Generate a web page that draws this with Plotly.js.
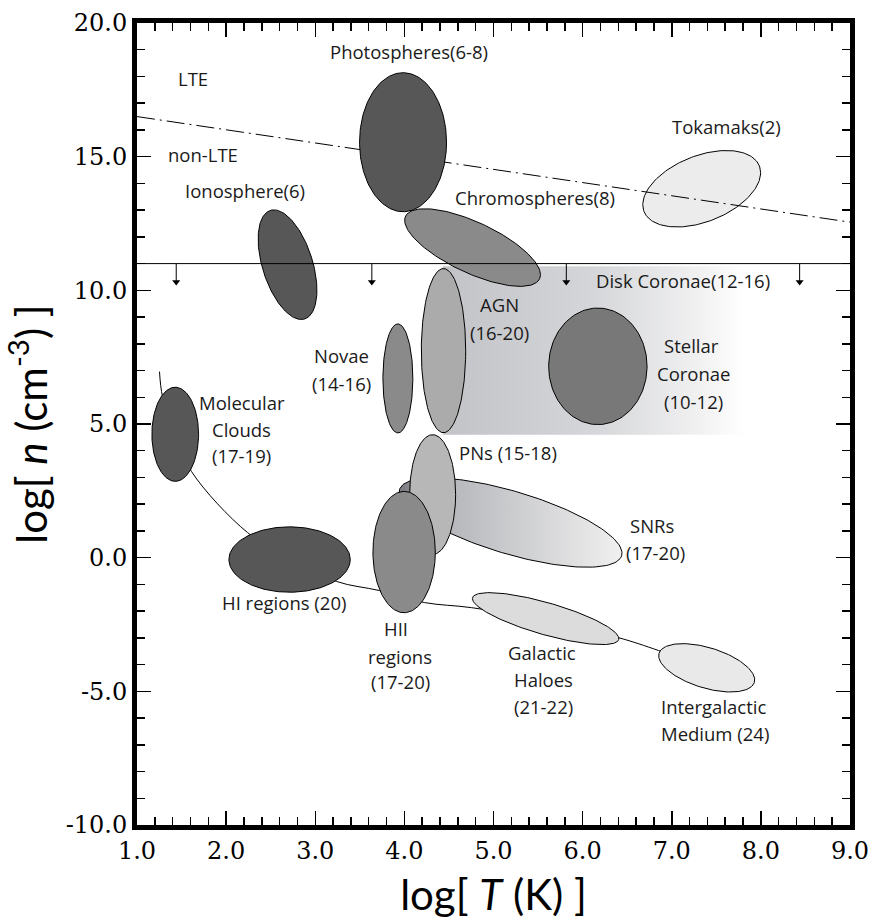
<!DOCTYPE html>
<html>
<head>
<meta charset="utf-8">
<script src="https://cdn.plot.ly/plotly-3.0.1.min.js"></script>
<style>html,body{margin:0;padding:0;background:#fff;}#chart{width:877px;height:922px;}</style>
</head>
<body>
<div id="chart"></div>
<script>
// ---------- data ----------
// plasma regions: centre (log T, log n), semi-axes (in log T and log n units), tilt (deg, screen)
const regionNames = ["Tokamaks","Photospheres","Chromospheres","Ionosphere","AGN","Novae","Stellar Coronae",
  "Molecular Clouds","HI regions","Galactic Haloes","Intergalactic Medium","PNs","HII regions"];
const regionLogT  = [7.336, 3.985, 4.765, 2.689, 4.439, 3.927, 6.171, 1.429, 2.712, 5.585, 7.392, 4.317, 3.997];
const regionLogN  = [13.80, 15.54, 11.60, 10.96, 7.745, 6.705, 7.158, 4.615, -0.07, -2.28, -4.12, 2.36, 0.21];
const regionHalfT = [0.696, 0.488, 0.830, 0.281, 0.249, 0.168, 0.552, 0.262, 0.681, 0.853, 0.559, 0.258, 0.350];
const regionHalfN = [1.234, 2.600, 0.950, 2.130, 3.070, 2.040, 2.180, 1.760, 1.223, 0.598, 0.755, 2.240, 2.270];
const regionTilt  = [21.6, 0, -25, 17.5, 0, 0, 0, 0, 0, -16, -17, 0, 0];

// supernova remnants (gradient-filled)
const snrLogT = 5.192, snrLogN = 1.313, snrHalfT = 1.30, snrHalfN = 1.17, snrTilt = -16.6;

// disk coronae band
const diskT = [4.43, 7.82];
const diskN = [4.60, 10.90];

// LTE / non-LTE boundary (dash-dot)
const lteT = [1.0, 9.0];
const lteN = [16.5, 12.55];

// n = 1e11 upper limit line with arrows
const limitN = 11.0;
const limitArrowT = [1.44, 3.635, 5.817, 8.435];
const limitArrowTipN = 10.18;

// ISM sequence curve
const ismT = [1.2525, 1.286, 1.432, 1.612, 2.24, 2.71, 3.24, 3.72, 4.227, 4.754, 5.585, 6.40, 6.85, 7.39];
const ismN = [6.96, 6.03, 4.61, 3.22, 0.94, 0.0, -0.89, -1.23, -1.68, -1.87, -2.36, -2.99, -3.47, -4.11];

// text labels (line by line)
const labelText = ["LTE","non-LTE","Ionosphere(6)","Photospheres(6-8)","Chromospheres(8)","Tokamaks(2)",
  "Disk Coronae(12-16)","AGN","(16-20)","Novae","(14-16)","Stellar","Coronae","(10-12)",
  "Molecular","Clouds","(17-19)","PNs (15-18)","SNRs","(17-20)","HI regions (20)",
  "HII","regions","(17-20)","Galactic","Haloes","(21-22)","Intergalactic","Medium (24)"];
const labelT = [1.626,1.738,2.214,4.05,5.467,7.616,
  7.126,5.07,5.07,3.30,3.30,7.22,7.245,7.24,
  2.176,2.176,2.176,5.16,6.774,6.817,2.648,
  3.909,3.954,3.961,5.543,5.559,5.559,7.47,7.485];
const labelN = [17.94,15.07,13.74,18.94,13.49,16.13,
  10.37,9.47,8.42,7.56,6.51,7.94,6.885,5.85,
  5.81,4.79,3.82,3.94,1.20,0.18,-1.69,
  -2.66,-3.69,-4.62,-3.54,-4.56,-5.56,-5.56,-6.58];

// axes
const xRange = [1, 9];
const yRange = [-10, 20];
const xTickVals = [1,2,3,4,5,6,7,8,9];
const xTickText = ["1.0","2.0","3.0","4.0","5.0","6.0","7.0","8.0","9.0"];
const yTickVals = [-10,-5,0,5,10,15,20];
const yTickText = ["-10.0","-5.0","0.0","5.0","10.0","15.0","20.0"];

// ---------- styles ----------
const regionFill = {
  "Tokamaks":"#ececec","Photospheres":"#575757","Chromospheres":"#8a8a8a","Ionosphere":"#575757",
  "AGN":"#ababab","Novae":"#8a8a8a","Stellar Coronae":"#787878","Molecular Clouds":"#575757",
  "HI regions":"#575757","Galactic Haloes":"#dcdcdc","Intergalactic Medium":"#e9e9e9",
  "PNs":"#b7b7b7","HII regions":"#8a8a8a"
};

const W = 877, H = 922;
const margin = {l:137, r:27, t:23, b:97, pad:0};
const plotW = W - margin.l - margin.r, plotH = H - margin.t - margin.b;
const sx = plotW / (xRange[1]-xRange[0]);
const sy = plotH / (yRange[1]-yRange[0]);

function ellipse(cx, cy, hx, hy, tiltDeg){
  const A = hx*sx, B = hy*sy, th = tiltDeg*Math.PI/180;
  const xs = [], ys = [];
  for (let i=0;i<=180;i++){
    const t = 2*Math.PI*i/180;
    const px = A*Math.cos(t), py = B*Math.sin(t);
    const X = px*Math.cos(th) - py*Math.sin(th);
    const Y = px*Math.sin(th) + py*Math.cos(th);
    xs.push(cx + X/sx); ys.push(cy + Y/sy);
  }
  return {x:xs, y:ys};
}

function regionTrace(i){
  const e = ellipse(regionLogT[i], regionLogN[i], regionHalfT[i], regionHalfN[i], regionTilt[i]);
  return {x:e.x, y:e.y, mode:'lines', fill:'toself', fillcolor:regionFill[regionNames[i]],
    line:{color:'#000', width:1}, name:regionNames[i], hoverinfo:'name', showlegend:false};
}
const idx = n => regionNames.indexOf(n);

const traces = [];
// disk coronae band
traces.push({x:[diskT[0],diskT[1],diskT[1],diskT[0],diskT[0]], y:[diskN[1],diskN[1],diskN[0],diskN[0],diskN[1]],
  mode:'lines', fill:'toself', line:{width:0, color:'rgba(0,0,0,0)'},
  fillgradient:{type:'horizontal', colorscale:[[0,'#c2c3c7'],[0.5,'#d5d6d9'],[0.85,'#f1f1f2'],[1,'#ffffff']]},
  name:'Disk Coronae', hoverinfo:'name', showlegend:false});
// ISM curve
traces.push({x:ismT, y:ismN, mode:'lines', line:{color:'#000', width:1, shape:'spline', smoothing:1},
  hoverinfo:'skip', showlegend:false});
// SNRs
const snr = ellipse(snrLogT, snrLogN, snrHalfT, snrHalfN, snrTilt);
traces.push({x:snr.x, y:snr.y, mode:'lines', fill:'toself', line:{color:'#000', width:1},
  fillgradient:{type:'horizontal', colorscale:[[0,'#7c7d82'],[0.25,'#b8b9bd'],[1,'#f0f0f0']]},
  name:'SNRs', hoverinfo:'name', showlegend:false});
traces.push(regionTrace(idx("Tokamaks")));
traces.push({x:lteT, y:lteN, mode:'lines', line:{color:'#000', width:1, dash:'18px,5px,2px,5px'},
  hoverinfo:'skip', showlegend:false});
["Photospheres","Chromospheres","Ionosphere","AGN","Novae","Stellar Coronae","Molecular Clouds",
 "HI regions","Galactic Haloes","Intergalactic Medium","PNs","HII regions"].forEach(n=>traces.push(regionTrace(idx(n))));
traces.push({x:xRange, y:[limitN, limitN], mode:'lines', line:{color:'#000', width:1},
  hoverinfo:'skip', showlegend:false});
// downward arrows below the limit line: shafts + heads
const shaftX = [], shaftY = [];
limitArrowT.forEach(t => { shaftX.push(t, t, null); shaftY.push(limitN, limitArrowTipN + 4/sy, null); });
traces.push({x:shaftX, y:shaftY, mode:'lines', line:{color:'#000', width:1}, hoverinfo:'skip', showlegend:false});
traces.push({x:limitArrowT, y:limitArrowT.map(()=>limitArrowTipN + 3.5/sy), mode:'markers',
  marker:{symbol:'triangle-down', size:7, color:'#000', line:{width:0}}, hoverinfo:'skip', showlegend:false});

const annotations = [];
labelText.forEach((s,i) => annotations.push({x:labelT[i], y:labelN[i], xref:'x', yref:'y', text:s,
  showarrow:false, xanchor:'center', yanchor:'middle',
  font:{family:'Open Sans, Lato, sans-serif', size:18.5, color:'#1a1a1a'}}));

const axisCommon = {
  showgrid:false, zeroline:false, showline:true, linewidth:5, linecolor:'#000', mirror:'ticks',
  ticks:'inside', ticklen:14, tickwidth:1.5, tickcolor:'#000', tickmode:'array',
  tickfont:{family:'DejaVu Serif, Liberation Serif, serif', size:24, color:'#000'}
};

const layout = {
  width:W, height:H, margin:margin, paper_bgcolor:'#fff', plot_bgcolor:'#fff', showlegend:false,
  font:{family:'DejaVu Serif, serif'},
  xaxis:Object.assign({}, axisCommon, {range:xRange, tickvals:xTickVals, ticktext:xTickText,
    minor:{dtick:0.2, tick0:1, ticks:'inside', ticklen:8, tickwidth:1.5, tickcolor:'#000', showgrid:false},
    title:{text:'log[ <i>T</i> (K) ]', font:{family:'Lato, sans-serif', size:42, color:'#000'}, standoff:18}}),
  yaxis:Object.assign({}, axisCommon, {range:yRange, tickvals:yTickVals, ticktext:yTickText,
    minor:{dtick:1, tick0:0, ticks:'inside', ticklen:8, tickwidth:1.5, tickcolor:'#000', showgrid:false},
    title:{text:'log[ <i>n</i> (cm<sup>-3</sup>) ]', font:{family:'Lato, sans-serif', size:42, color:'#000'}, standoff:14}}),
  annotations:annotations
};

Plotly.newPlot('chart', traces, layout, {displayModeBar:false, staticPlot:true});
</script>
</body>
</html>
